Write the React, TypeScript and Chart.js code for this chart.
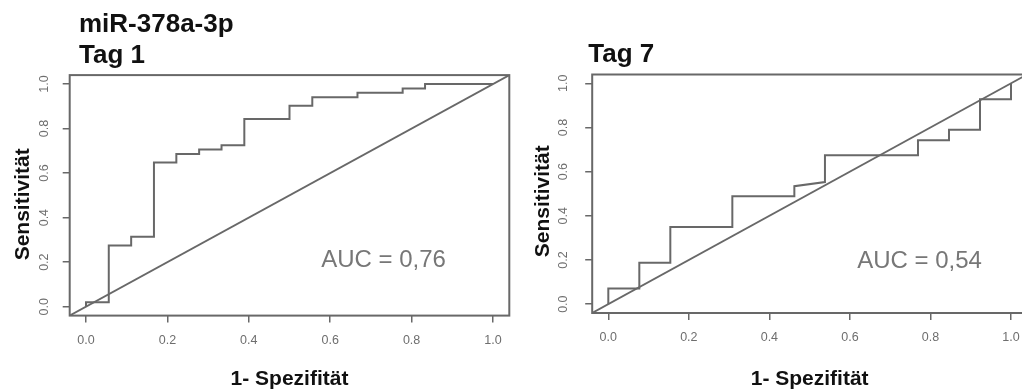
import React, { useEffect, useRef } from "react";
import { Chart, registerables } from "chart.js";

Chart.register(...registerables);

// ---------- data ----------
const axisMin = -0.04;
const axisMax = 1.04;
const tickValues = [0, 0.2, 0.4, 0.6, 0.8, 1.0];
const tickLabels = ["0.0", "0.2", "0.4", "0.6", "0.8", "1.0"];

// ROC curve vertices, Tag 1 (1 - specificity, sensitivity)
const fprTag1 = [0, 0, 0.056, 0.056, 0.111, 0.111, 0.167, 0.167, 0.222, 0.222, 0.278, 0.278, 0.333, 0.333, 0.389, 0.389, 0.5, 0.5, 0.556, 0.556, 0.667, 0.667, 0.778, 0.778, 0.833, 0.833, 1.0];
const tprTag1 = [0, 0.02, 0.02, 0.275, 0.275, 0.314, 0.314, 0.647, 0.647, 0.686, 0.686, 0.706, 0.706, 0.725, 0.725, 0.843, 0.843, 0.902, 0.902, 0.941, 0.941, 0.961, 0.961, 0.98, 0.98, 1.0, 1.0];

// ROC curve vertices, Tag 7
const fprTag7 = [0, 0, 0.077, 0.077, 0.154, 0.154, 0.308, 0.308, 0.462, 0.462, 0.538, 0.538, 0.769, 0.769, 0.846, 0.846, 0.923, 0.923, 1.0, 1.0];
const tprTag7 = [0, 0.071, 0.071, 0.187, 0.187, 0.35, 0.35, 0.489, 0.489, 0.534, 0.553, 0.674, 0.674, 0.742, 0.742, 0.79, 0.79, 0.928, 0.928, 1.0];

// chance diagonal y = x across the plotted range
const diagonal = [axisMin, axisMax];

const aucTag1 = "AUC = 0,76";
const aucTag7 = "AUC = 0,54";
const headingsTag1 = ["miR-378a-3p", "Tag 1"];
const headingsTag7 = ["Tag 7"];
const xTitle = "1- Spezifität";
const yTitle = "Sensitivität";

// ---------- styling / layout ----------
const FONT = "'Liberation Sans', Arial, Helvetica, sans-serif";
const LINE = "#686868";
const CANVAS_H = 391;

type Panel = {
  fpr: number[];
  tpr: number[];
  auc: string;
  aucAt: { x: number; y: number };
  headings: string[];
  headingBaselines: number[];
  headingX: number;
  canvasLeft: number;
  canvasWidth: number;
  area: { left: number; right: number; top: number; bottom: number };
  yLabelOffset: number;
  yTitleX: number;
  yTitleShift: number;
};

const panels: Panel[] = [
  {
    fpr: fprTag1,
    tpr: tprTag1,
    auc: aucTag1,
    aucAt: { x: 0.731, y: 0.21 },
    headings: headingsTag1,
    headingBaselines: [32, 62.5],
    headingX: 79,
    canvasLeft: 0,
    canvasWidth: 515,
    area: { left: 69.7, right: 509.3, top: 75.1, bottom: 315.6 },
    yLabelOffset: 25,
    yTitleX: 23,
    yTitleShift: 9,
  },
  {
    fpr: fprTag7,
    tpr: tprTag7,
    auc: aucTag7,
    aucAt: { x: 0.773, y: 0.196 },
    headings: headingsTag7,
    headingBaselines: [62.3],
    headingX: 73.3,
    canvasLeft: 515,
    canvasWidth: 520,
    area: { left: 77.2, right: 512.1, top: 74.5, bottom: 313 },
    yLabelOffset: 29,
    yTitleX: 28,
    yTitleShift: 7.5,
  },
];

function RocPanel({ p }: { p: Panel }) {
  const ref = useRef<HTMLCanvasElement | null>(null);

  useEffect(() => {
    if (!ref.current) return;
    const curve = p.fpr.map((x, i) => ({ x, y: p.tpr[i] }));
    const diag = diagonal.map((v) => ({ x: v, y: v }));

    const decor = {
      id: "rDecor",
      afterDraw(chart: any) {
        const ctx = chart.ctx;
        const a = chart.chartArea;
        const xs = chart.scales.x;
        const ys = chart.scales.y;
        ctx.save();
        // box
        ctx.strokeStyle = LINE;
        ctx.lineWidth = 2;
        ctx.strokeRect(a.left, a.top, a.right - a.left, a.bottom - a.top);
        // rotated y tick labels
        ctx.fillStyle = "#6e6e6e";
        ctx.font = `12.5px ${FONT}`;
        ctx.textAlign = "center";
        ctx.textBaseline = "middle";
        tickValues.forEach((v, i) => {
          const py = ys.getPixelForValue(v);
          ctx.save();
          ctx.translate(a.left - p.yLabelOffset, py);
          ctx.rotate(-Math.PI / 2);
          ctx.fillText(tickLabels[i], 0, 0);
          ctx.restore();
        });
        // y title
        ctx.fillStyle = "#111";
        ctx.font = `bold 21px ${FONT}`;
        ctx.save();
        ctx.translate(p.yTitleX, (a.top + a.bottom) / 2 + p.yTitleShift);
        ctx.rotate(-Math.PI / 2);
        ctx.fillText(yTitle, 0, 0);
        ctx.restore();
        // headings
        ctx.font = `bold 26px ${FONT}`;
        ctx.textAlign = "left";
        ctx.textBaseline = "alphabetic";
        p.headings.forEach((h, i) => {
          ctx.fillText(h, p.headingX, p.headingBaselines[i]);
        });
        // AUC annotation
        ctx.fillStyle = "#777";
        ctx.font = `24px ${FONT}`;
        ctx.textAlign = "center";
        ctx.textBaseline = "middle";
        ctx.fillText(p.auc, xs.getPixelForValue(p.aucAt.x), ys.getPixelForValue(p.aucAt.y));
        ctx.restore();
      },
    };

    const chart = new Chart(ref.current, {
      type: "scatter",
      data: {
        datasets: [
          {
            data: curve,
            showLine: true,
            borderColor: LINE,
            borderWidth: 2,
            pointRadius: 0,
            tension: 0,
            fill: false,
          },
          {
            data: diag,
            showLine: true,
            borderColor: LINE,
            borderWidth: 1.8,
            pointRadius: 0,
            tension: 0,
            fill: false,
          },
        ],
      },
      options: {
        animation: false,
        responsive: false,
        devicePixelRatio: 1,
        layout: {
          padding: {
            top: p.area.top,
            right: p.canvasWidth - p.area.right,
            bottom: 0,
            left: 0,
          },
        },
        plugins: {
          legend: { display: false },
          tooltip: { enabled: false },
          title: { display: false },
        },
        scales: {
          x: {
            type: "linear",
            min: axisMin,
            max: axisMax,
            afterBuildTicks: (s: any) => {
              s.ticks = tickValues.map((v) => ({ value: v }));
            },
            afterFit: (s: any) => {
              s.height = CANVAS_H - p.area.bottom;
            },
            grid: {
              drawOnChartArea: false,
              drawTicks: true,
              tickLength: 7,
              color: LINE,
              lineWidth: 1.5,
            },
            border: { display: false },
            ticks: {
              autoSkip: false,
              maxRotation: 0,
              minRotation: 0,
              padding: 10,
              color: "#6e6e6e",
              font: { family: FONT, size: 12.5 },
              callback: (v: any) => tickLabels[tickValues.indexOf(Number(v))] ?? "",
            },
            title: {
              display: true,
              text: xTitle,
              color: "#111",
              font: { family: FONT, size: 21, weight: "bold", lineHeight: 1 },
              padding: { top: 0, bottom: 1 },
            },
          },
          y: {
            type: "linear",
            min: axisMin,
            max: axisMax,
            afterBuildTicks: (s: any) => {
              s.ticks = tickValues.map((v) => ({ value: v }));
            },
            afterFit: (s: any) => {
              s.width = p.area.left;
            },
            grid: {
              drawOnChartArea: false,
              drawTicks: true,
              tickLength: 7,
              color: LINE,
              lineWidth: 1.5,
            },
            border: { display: false },
            ticks: {
              color: "rgba(0,0,0,0)",
              font: { family: FONT, size: 12.5 },
              callback: (v: any) => tickLabels[tickValues.indexOf(Number(v))] ?? "",
            },
          },
        },
      } as any,
      plugins: [decor],
    });
    return () => chart.destroy();
  }, [p]);

  return (
    <canvas
      ref={ref}
      width={p.canvasWidth}
      height={CANVAS_H}
      style={{
        position: "absolute",
        left: p.canvasLeft,
        top: 0,
        width: p.canvasWidth,
        height: CANVAS_H,
        display: "block",
      }}
    />
  );
}

export default function App() {
  return (
    <div
      style={{
        position: "absolute",
        left: 0,
        top: 0,
        width: 1022,
        height: CANVAS_H,
        overflow: "hidden",
        background: "#fff",
      }}
    >
      {panels.map((p, i) => (
        <RocPanel key={i} p={p} />
      ))}
    </div>
  );
}
